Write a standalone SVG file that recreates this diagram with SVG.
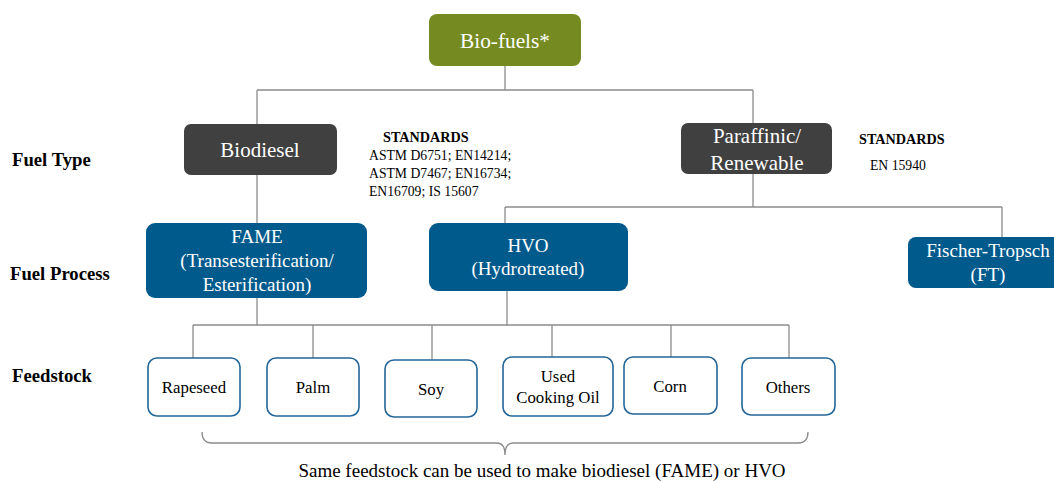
<svg xmlns="http://www.w3.org/2000/svg" width="1054" height="481" viewBox="0 0 1054 481" font-family="'Liberation Serif', 'Times New Roman', Times, serif">
<style>
text{font-family:'Liberation Serif', 'Times New Roman', Times, serif;}
.w{fill:#ffffff;text-anchor:middle;}
.k{fill:#000000;}
.c{text-anchor:middle;}
.b{font-weight:bold;}
.con{stroke:#8c8c8c;stroke-width:1.3;fill:none;}
.fs{fill:#ffffff;stroke:#236596;stroke-width:1.6;}
.proc{fill:#015a8c;}
.type{fill:#404040;}
</style>
<rect width="1054" height="481" fill="#ffffff"/>
<g id="connectors">
<path class="con" d="M505,66V90M257,90H753M257,90V124M753,90V123M257,175V223M753,174V207M505,207H1002M505,207V223M1002,207V237M257,297V325M507,291V325M193,325H789M193,325V358M313,325V358M432,325V360M552,325V357M671,325V357M789,325V358"/>
<path class="con" d="M202,432Q202,443 212,443H497Q505,443 505,455Q505,443 513,443H798Q808,443 808,432"/>
</g>
<g id="labels">
<text class="k b" x="12" y="166" font-size="18.7">Fuel Type</text>
<text class="k b" x="10" y="280" font-size="18.7">Fuel Process</text>
<text class="k b" x="12" y="382" font-size="18.7">Feedstock</text>
</g>
<g id="biofuels">
<rect x="429" y="14" width="152" height="52" rx="8" fill="#758b22"/>
<text class="w" x="505" y="48" font-size="21.3">Bio-fuels*</text>
</g>
<g id="biodiesel">
<rect class="type" x="184" y="124" width="153" height="51" rx="7"/>
<text class="w" x="260" y="157" font-size="21">Biodiesel</text>
</g>
<g id="standards-biodiesel">
<text class="k b" x="383" y="142" font-size="14.2">STANDARDS</text>
<text class="k" x="369" y="160" font-size="13.7">ASTM D6751; EN14214;</text>
<text class="k" x="369" y="178" font-size="13.7">ASTM D7467; EN16734;</text>
<text class="k" x="369" y="196" font-size="13.7">EN16709; IS 15607</text>
</g>
<g id="paraffinic">
<rect class="type" x="681" y="123" width="151" height="51" rx="7"/>
<text class="w" x="757" y="143" font-size="21">Paraffinic/</text>
<text class="w" x="757" y="170" font-size="21">Renewable</text>
</g>
<g id="standards-paraffinic">
<text class="k b" x="859" y="144" font-size="14.2">STANDARDS</text>
<text class="k" x="870" y="170" font-size="13.7">EN 15940</text>
</g>
<g id="fame">
<rect class="proc" x="146" y="223" width="221" height="75" rx="9"/>
<text class="w" x="257" y="243" font-size="19">FAME</text>
<text class="w" x="257" y="267" font-size="19">(Transesterification/</text>
<text class="w" x="257" y="291" font-size="19">Esterification)</text>
</g>
<g id="hvo">
<rect class="proc" x="429" y="223" width="199" height="68" rx="9"/>
<text class="w" x="528" y="252" font-size="19">HVO</text>
<text class="w" x="528" y="275" font-size="19">(Hydrotreated)</text>
</g>
<g id="ft">
<rect class="proc" x="908" y="237" width="160" height="51" rx="8"/>
<text class="w" x="988" y="257" font-size="19">Fischer-Tropsch</text>
<text class="w" x="988" y="281" font-size="19">(FT)</text>
</g>
<g id="rapeseed">
<rect class="fs" x="148" y="358" width="92" height="58" rx="9"/>
<text class="k c" x="194" y="393" font-size="16.8">Rapeseed</text>
</g>
<g id="palm">
<rect class="fs" x="267" y="358" width="92" height="58" rx="9"/>
<text class="k c" x="313" y="393" font-size="16.8">Palm</text>
</g>
<g id="soy">
<rect class="fs" x="385" y="360" width="92" height="57" rx="9"/>
<text class="k c" x="431" y="395" font-size="16.8">Soy</text>
</g>
<g id="uco">
<rect class="fs" x="503" y="357" width="110" height="59" rx="9"/>
<text class="k c" x="558" y="382" font-size="16.8">Used</text>
<text class="k c" x="558" y="403" font-size="16.8">Cooking Oil</text>
</g>
<g id="corn">
<rect class="fs" x="624" y="357" width="93" height="57" rx="9"/>
<text class="k c" x="670" y="392" font-size="16.8">Corn</text>
</g>
<g id="others">
<rect class="fs" x="742" y="358" width="93" height="57" rx="9"/>
<text class="k c" x="788" y="393" font-size="16.8">Others</text>
</g>
<g id="note">
<text class="k c" x="542" y="477" font-size="19">Same feedstock can be used to make biodiesel (FAME) or HVO</text>
</g>
</svg>
